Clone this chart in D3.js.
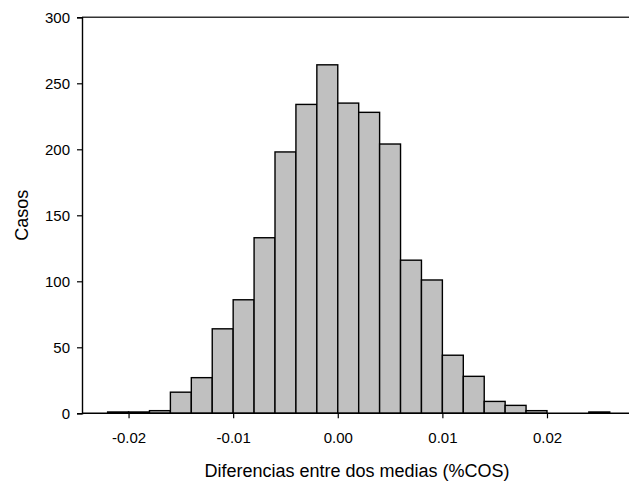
<!DOCTYPE html>
<meta charset="utf-8">
<style>
body { margin: 0; background: #fff; }
text { font-family: "Liberation Sans", Arial, sans-serif; fill: #000; }
.bars rect { fill: #c0c0c0; stroke: #000; stroke-width: 1.4; }
</style>
<svg id="chart" width="629" height="482"></svg>
<script src="https://d3js.org/d3.v7.min.js"></script>
<script>

// bin lower edges (bin width 0.002) and counts
var binStart = [-0.022, -0.020, -0.018, -0.016, -0.014, -0.012, -0.010, -0.008,
                -0.006, -0.004, -0.002, 0.000, 0.002, 0.004, 0.006, 0.008,
                0.010, 0.012, 0.014, 0.016, 0.018, 0.020, 0.022, 0.024];
var counts = [1, 1, 2, 16, 27, 64, 86, 133,
              198, 234, 264, 235, 228, 204, 116, 101,
              44, 28, 9, 6, 2, 0, 0, 1];
var binWidth = 0.002;
var xTicks = [-0.02, -0.01, 0.00, 0.01, 0.02];
var yTicks = [0, 50, 100, 150, 200, 250, 300];

var svg = d3.select("#chart");

var plotL = 82, plotR = 629, plotT = 17.3, plotB = 413.3;

var x = d3.scaleLinear().domain([-0.02445, 0.02784]).range([plotL, plotR]);
var y = d3.scaleLinear().domain([0, 300]).range([plotB, plotT]);

var data = binStart.map(function(b, i) { return { x0: b, x1: b + binWidth, n: counts[i] }; });

// bars
svg.append("g")
    .attr("class", "bars")
  .selectAll("rect")
  .data(data.filter(function(d) { return d.n > 0; }))
  .enter().append("rect")
    .attr("x", function(d) { return x(d.x0); })
    .attr("width", function(d) { return x(d.x1) - x(d.x0); })
    .attr("y", function(d) { return y(d.n); })
    .attr("height", function(d) { return y(0) - y(d.n); });

// top frame line
svg.append("line")
    .attr("x1", plotL).attr("x2", plotR)
    .attr("y1", plotT).attr("y2", plotT)
    .attr("stroke", "#333").attr("stroke-width", 1.4);

// y axis
var yAxis = svg.append("g")
    .attr("transform", "translate(" + plotL + ",0)")
    .call(d3.axisLeft(y).tickValues(yTicks).tickSize(5).tickPadding(7));
yAxis.select(".domain").attr("stroke-width", 1.4);
yAxis.selectAll(".tick line").attr("stroke-width", 1.2);
yAxis.selectAll("text").style("font-size", "15px").attr("fill", "#000");

// x axis
var fmt = d3.format(".2f");
var xAxis = svg.append("g")
    .attr("transform", "translate(0," + plotB + ")")
    .call(d3.axisBottom(x).tickValues(xTicks).tickSize(5).tickPadding(14)
      .tickFormat(function(d) { return fmt(d).replace("\u2212", "-"); }));
xAxis.select(".domain").attr("d", "M" + plotL + ",0H" + plotR).attr("stroke-width", 1.4);
xAxis.selectAll(".tick line").attr("stroke-width", 1.2);
xAxis.selectAll("text").style("font-size", "15px").attr("fill", "#000");

// axis titles
svg.append("text")
    .attr("x", 357)
    .attr("y", 477)
    .attr("text-anchor", "middle")
    .style("font-size", "18px")
    .text("Diferencias entre dos medias (%COS)");

svg.append("text")
    .attr("transform", "translate(27.5," + (plotT + plotB) / 2 + ") rotate(-90)")
    .attr("text-anchor", "middle")
    .style("font-size", "18px")
    .text("Casos");

</script>
